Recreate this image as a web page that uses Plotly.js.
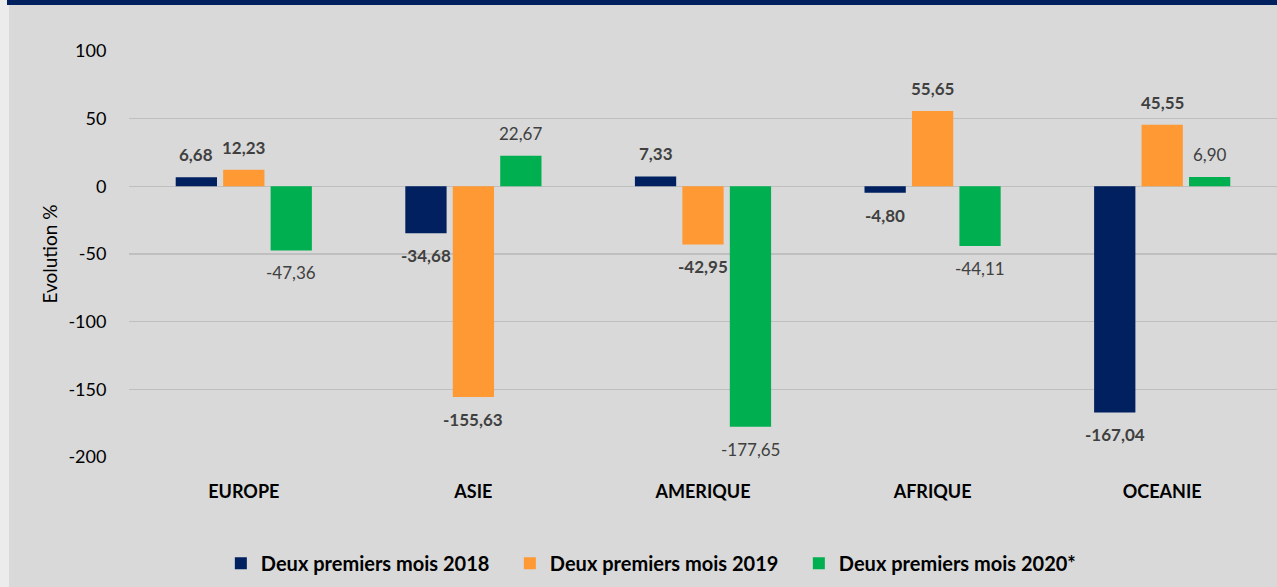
<!DOCTYPE html>
<html>
<head>
<meta charset="utf-8">
<script src="https://cdn.plot.ly/plotly-3.0.1.min.js"></script>
<style>
html,body{margin:0;padding:0;background:#d9d9d9;}
#wrap{position:relative;width:1277px;height:587px;overflow:hidden;background:#d9d9d9;}
#leftstrip{position:absolute;left:0;top:0;width:9px;height:587px;background:#ececec;z-index:2;}
#topbar{position:absolute;left:7px;top:0;width:1270px;height:5px;background:#002060;z-index:3;}
#chart{position:absolute;left:0;top:0;width:1277px;height:587px;}
</style>
</head>
<body>
<div id="wrap">
<div id="chart"></div>
<div id="leftstrip"></div>
<div id="topbar"></div>
</div>
<script>
var categories = ["EUROPE", "ASIE", "AMERIQUE", "AFRIQUE", "OCEANIE"];
var seriesNames = ["Deux premiers mois 2018", "Deux premiers mois 2019", "Deux premiers mois 2020*"];
var values2018 = [6.68, -34.68, 7.33, -4.80, -167.04];
var values2019 = [12.23, -155.63, -42.95, 55.65, 45.55];
var values2020 = [-47.36, 22.67, -177.65, -44.11, 6.90];
var colors = ["#002060", "#ff9933", "#00b050"];
var yTicks = [100, 50, 0, -50, -100, -150, -200];

function fmt(v){ return v.toFixed(2).replace('.', ','); }

var W = 1277, H = 587;
var margin = {l: 129, r: 0, t: 51, b: 130};
var bargap = 0.38;
var FONT = 'Lato, "Open Sans", sans-serif';

var allValues = [values2018, values2019, values2020];
var traces = allValues.map(function(vals, i){
  return {
    type: 'bar',
    name: seriesNames[i],
    x: categories,
    y: vals,
    marker: {color: colors[i]},
    hoverinfo: 'x+y'
  };
});

// value labels placed at each bar's end
var plotW = W - margin.l - margin.r;
var catW = plotW / categories.length;
var slotW = catW * (1 - bargap) / allValues.length;
var annotations = [];
allValues.forEach(function(vals, i){
  var dx = (i - (allValues.length - 1) / 2) * slotW;
  vals.forEach(function(v, j){
    annotations.push({
      x: categories[j], y: v, xref: 'x', yref: 'y',
      text: i < 2 ? '<b>' + fmt(v) + '</b>' : fmt(v),
      showarrow: false,
      xshift: dx,
      yanchor: v >= 0 ? 'bottom' : 'top',
      yshift: v >= 0 ? 10 : -10,
      font: {family: FONT, size: 17, color: '#404040'}
    });
  });
});

var layout = {
  width: W,
  height: H,
  paper_bgcolor: '#d9d9d9',
  plot_bgcolor: '#d9d9d9',
  margin: margin,
  barmode: 'group',
  bargap: bargap,
  bargroupgap: 0.13,
  showlegend: true,
  annotations: annotations,
  legend: {
    orientation: 'h',
    x: 0.080, xanchor: 'left',
    y: -0.262, yanchor: 'middle',
    font: {family: FONT, size: 20, color: '#000000', weight: 'bold'},
    itemwidth: 30,
    entrywidth: 244,
    entrywidthmode: 'pixels',
    tracegroupgap: 0,
    traceorder: 'normal',
    bgcolor: 'rgba(0,0,0,0)'
  },
  xaxis: {
    type: 'category',
    tickfont: {family: FONT, size: 18, color: '#000000', weight: 'bold'},
    ticks: 'outside', ticklen: 18, tickcolor: 'rgba(0,0,0,0)',
    showline: false, showgrid: false, zeroline: false
  },
  yaxis: {
    range: [-200, 100],
    tickvals: yTicks,
    ticktext: yTicks.map(String),
    tickfont: {family: FONT, size: 18, color: '#000000'},
    ticks: 'outside', ticklen: 18, tickcolor: 'rgba(0,0,0,0)',
    showgrid: true, gridcolor: '#bfbfbf', gridwidth: 1.5,
    zeroline: false,
    showline: false,
    title: {text: 'Evolution %', standoff: 5, font: {family: FONT, size: 19, color: '#000000'}}
  }
};

Plotly.newPlot('chart', traces, layout, {displayModeBar: false, staticPlot: true});
</script>
</body>
</html>
